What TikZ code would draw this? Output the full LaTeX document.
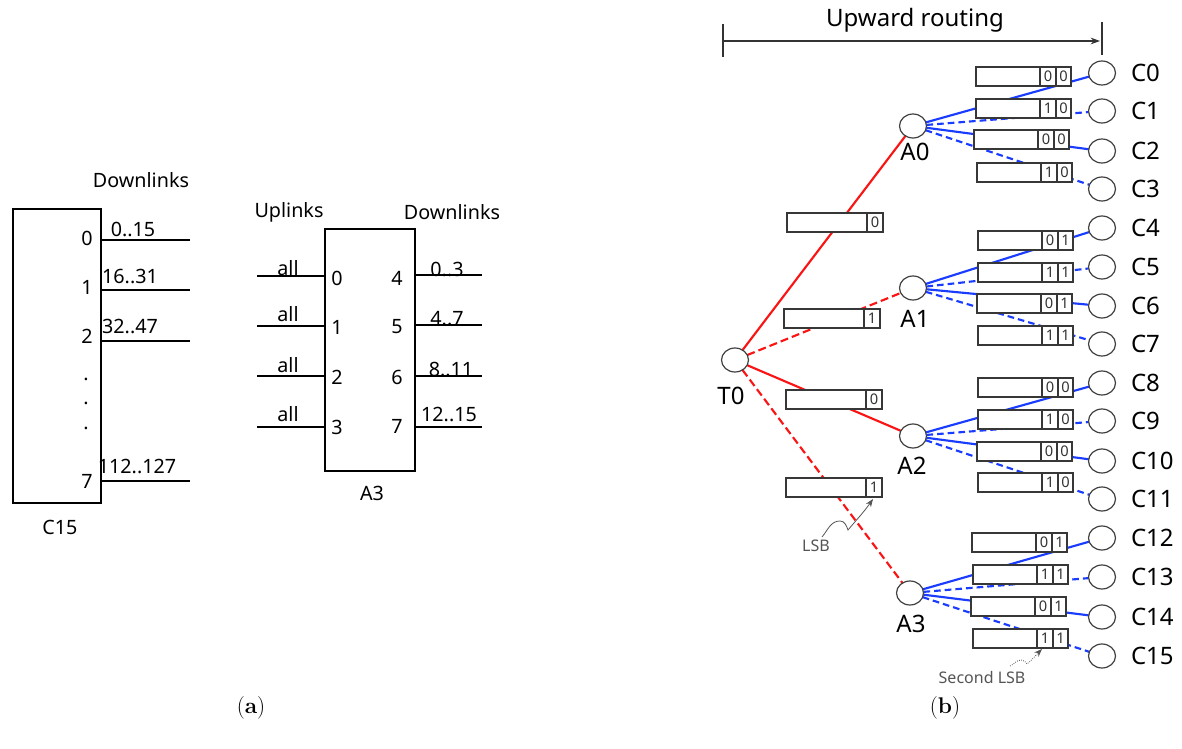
\documentclass[tikz,border=0pt]{standalone}
\usepackage{fontspec}
\setsansfont{Noto Sans}
\usetikzlibrary{shapes.geometric,arrows.meta}
\pgfdeclarelayer{bg}
\pgfdeclarelayer{back}
\pgfsetlayers{back,bg,main}
\definecolor{rline}{RGB}{250,20,20}
\definecolor{bline}{RGB}{25,60,255}
\definecolor{boxc}{RGB}{55,55,55}
\definecolor{notec}{RGB}{85,85,85}
\tikzset{
  every node/.style={inner sep=0pt, outer sep=0pt},
  atext/.style={font=\sffamily\fontsize{14.8}{17}\selectfont},
  bigl/.style={font=\sffamily\fontsize{18}{21}\selectfont},
  uptext/.style={font=\sffamily\fontsize{18}{21}\selectfont},
  bitt/.style={font=\sffamily\fontsize{11}{12}\selectfont, text=black!80},
  notet/.style={font=\sffamily\fontsize{12}{14}\selectfont, text=notec},
  capt/.style={font=\rmfamily\fontsize{17}{20}\selectfont},
  ell/.style={ellipse, draw=black!75, line width=0.9pt, fill=white, minimum width=20.25pt, minimum height=18pt},
  thickbox/.style={draw=black, line width=1.9pt},
  portline/.style={draw=black, line width=1.1pt},
  pbox/.style={draw=boxc, line width=0.9pt, fill=white},
  pdiv/.style={draw=boxc, line width=0.9pt},
  redl/.style={draw=rline, line width=1.6pt},
  redd/.style={draw=rline, line width=1.6pt, dash pattern=on 6pt off 3pt},
  bluel/.style={draw=bline, line width=1.6pt},
  blued/.style={draw=bline, line width=1.6pt, dash pattern=on 5pt off 3pt},
  notearrow/.style={draw=notec, line width=0.6pt, -{Stealth[length=6pt,width=4.5pt]}},
}
% two-bit packet: left, top, bit1, bit2, name
\newcommand\pktTwo[5]{%
  \draw[pbox] (#1,#2) rectangle ++(95,19);
  \draw[pdiv] (#1+64,#2) -- ++(0,19) (#1+80,#2) -- ++(0,19);
  \node[bitt] (#5a) at (#1+72,#2+9.5) {#3};
  \node[bitt] (#5b) at (#1+87.5,#2+9.5) {#4};}
% one-bit packet: left, top, bit, name
\newcommand\pktOne[4]{%
  \draw[pbox] (#1,#2) rectangle ++(96,19);
  \draw[pdiv] (#1+80,#2) -- ++(0,19);
  \node[bitt] (#4a) at (#1+88,#2+9.5) {#3};}
\begin{document}
\begin{tikzpicture}[x=0.75pt,y=-0.75pt]
\useasboundingbox (0,0) rectangle (1182,749);
\begin{pgfonlayer}{back}
\fill[white] (0,0) rectangle (1182,749);
\end{pgfonlayer}

% ---------------- (a) ----------------
\draw[thickbox] (13,209) rectangle (101,503);
\foreach \y in {240,290,341,481} \draw[portline] (101,\y) -- (190,\y);
\node[atext] (dlA) at (141,180) {Downlinks};
\node[atext] (cp0) at (87,238) {0};
\node[atext] (cp1) at (87,287) {1};
\node[atext] (cp2) at (87,336) {2};
\node[atext] (cp7) at (87,481) {7};
\node[atext] (cd1) at (86,379) {.};
\node[atext] (cd2) at (86,403) {.};
\node[atext] (cd3) at (86,428) {.};
\node[atext] (cr0) at (133,229) {0..15};
\node[atext] (cr1) at (130,276) {16..31};
\node[atext] (cr2) at (130,326) {32..47};
\node[atext] (cr7) at (137,466) {112..127};
\node[atext] (c15l) at (60,527) {C15};

\draw[portline] (325,229) rectangle (415,471);
\foreach \y in {276,326,376,427} \draw[portline] (257,\y) -- (325,\y);
\foreach \y in {275,325,376,427} \draw[portline] (415,\y) -- (482,\y);
\node[atext] (ulA) at (289,212) {Uplinks};
\node[atext] (dlB) at (452,212) {Downlinks};
\node[atext] (al0) at (288,268) {all};
\node[atext] (al1) at (288,314) {all};
\node[atext] (al2) at (288,365) {all};
\node[atext] (al3) at (288,414) {all};
\node[atext] (ap0) at (337,278) {0};
\node[atext] (ap1) at (337,327) {1};
\node[atext] (ap2) at (337,377) {2};
\node[atext] (ap3) at (337,427) {3};
\node[atext] (ap4) at (397,278) {4};
\node[atext] (ap5) at (397,327) {5};
\node[atext] (ap6) at (397,377) {6};
\node[atext] (ap7) at (397,426) {7};
\node[atext] (ar4) at (447,269) {0..3};
\node[atext] (ar5) at (447,319) {4..7};
\node[atext] (ar6) at (451,369) {8..11};
\node[atext] (ar7) at (449,414) {12..15};
\node[atext] (a3l) at (372,493) {A3};

\node[capt] (capa) at (251,708) {(\textbf{a})};
\node[capt] (capb) at (945,708) {(\textbf{b})};

% ---------------- (b) ----------------
\coordinate (uL) at (723,41);
\coordinate (uR) at (1100,41);
\draw[line width=0.8pt, black!80] (723,24) -- (723,57);
\draw[line width=0.8pt, black!80] (1102,22) -- (1102,55);
\draw[line width=0.8pt, black!80, -{Stealth[length=7pt,width=5pt]}] (uL) -- (uR);
\node[uptext] (upt) at (915,20) {Upward routing};

\node[ell] (T0) at (735,360) {};
\node[ell] (A0) at (913,126) {};
\node[ell] (A1) at (913,288) {};
\node[ell] (A2) at (913,436) {};
\node[ell] (A3) at (910,593) {};
\node[bigl] (T0l) at (731,396) {T0};
\node[bigl] (A0l) at (915,152) {A0};
\node[bigl] (A1l) at (915,319) {A1};
\node[bigl] (A2l) at (912,466) {A2};
\node[bigl] (A3l) at (911,624) {A3};

\foreach \i/\y in {0/73,1/111,2/151,3/189,4/228,5/267,6/306,7/344,8/383,9/421,10/461,11/499,12/538,13/577,14/617,15/656}{
  \node[ell] (C\i) at (1102,\y) {};
  \node[bigl, anchor=west] (C\i l) at (1131,\y) {C\i};
}

\begin{pgfonlayer}{bg}
  \draw[redl] (T0) -- (A0);
  \draw[redd] (T0) -- (A1);
  \draw[redl] (T0) -- (A2);
  \draw[redd] (T0) -- (A3);
  \foreach \a/\c in {0/0,1/4,2/8,3/12}{
    \pgfmathtruncatemacro\ca{\c}
    \pgfmathtruncatemacro\cb{\c+1}
    \pgfmathtruncatemacro\cc{\c+2}
    \pgfmathtruncatemacro\cd{\c+3}
    \draw[bluel] (A\a) -- (C\ca);
    \draw[blued] (A\a) -- (C\cb);
    \draw[bluel] (A\a) -- (C\cc);
    \draw[blued] (A\a) -- (C\cd);
  }
\end{pgfonlayer}

\pktOne{787}{213}{0}{p1}
\pktOne{784}{309}{1}{p2}
\pktOne{786}{390}{0}{p3}
\pktOne{786}{478}{1}{p4}

\pktTwo{976}{67}{0}{0}{q0}
\pktTwo{976}{99}{1}{0}{q1}
\pktTwo{974}{130}{0}{0}{q2}
\pktTwo{977}{163}{1}{0}{q3}
\pktTwo{978}{231}{0}{1}{q4}
\pktTwo{978}{263}{1}{1}{q5}
\pktTwo{977}{294}{0}{1}{q6}
\pktTwo{978}{326}{1}{1}{q7}
\pktTwo{978}{378}{0}{0}{q8}
\pktTwo{978}{410}{1}{0}{q9}
\pktTwo{977}{442}{0}{0}{q10}
\pktTwo{978}{473}{1}{0}{q11}
\pktTwo{972}{533}{0}{1}{q12}
\pktTwo{973}{565}{1}{1}{q13}
\pktTwo{971}{597}{0}{1}{q14}
\pktTwo{973}{629}{1}{1}{q15}

\node[notet] (lsb) at (816,546) {LSB};
\coordinate (lsbS) at (822,537);
\coordinate (lsbT) at (873,499);
\draw[notearrow] (lsbS) to[out=50,in=180] (840,521) to[out=0,in=110] (848,530) to[out=50,in=235] (lsbT);

\node[notet] (slsb) at (982,677) {Second LSB};
\coordinate (slsbS) at (1010,666);
\coordinate (slsbT) at (1042,649);
\draw[notearrow, densely dotted] (slsbS) to[out=20,in=180] (1021,660) to[out=0,in=120] (1027,664) to[out=40,in=225] (slsbT);
\end{tikzpicture}
\end{document}
